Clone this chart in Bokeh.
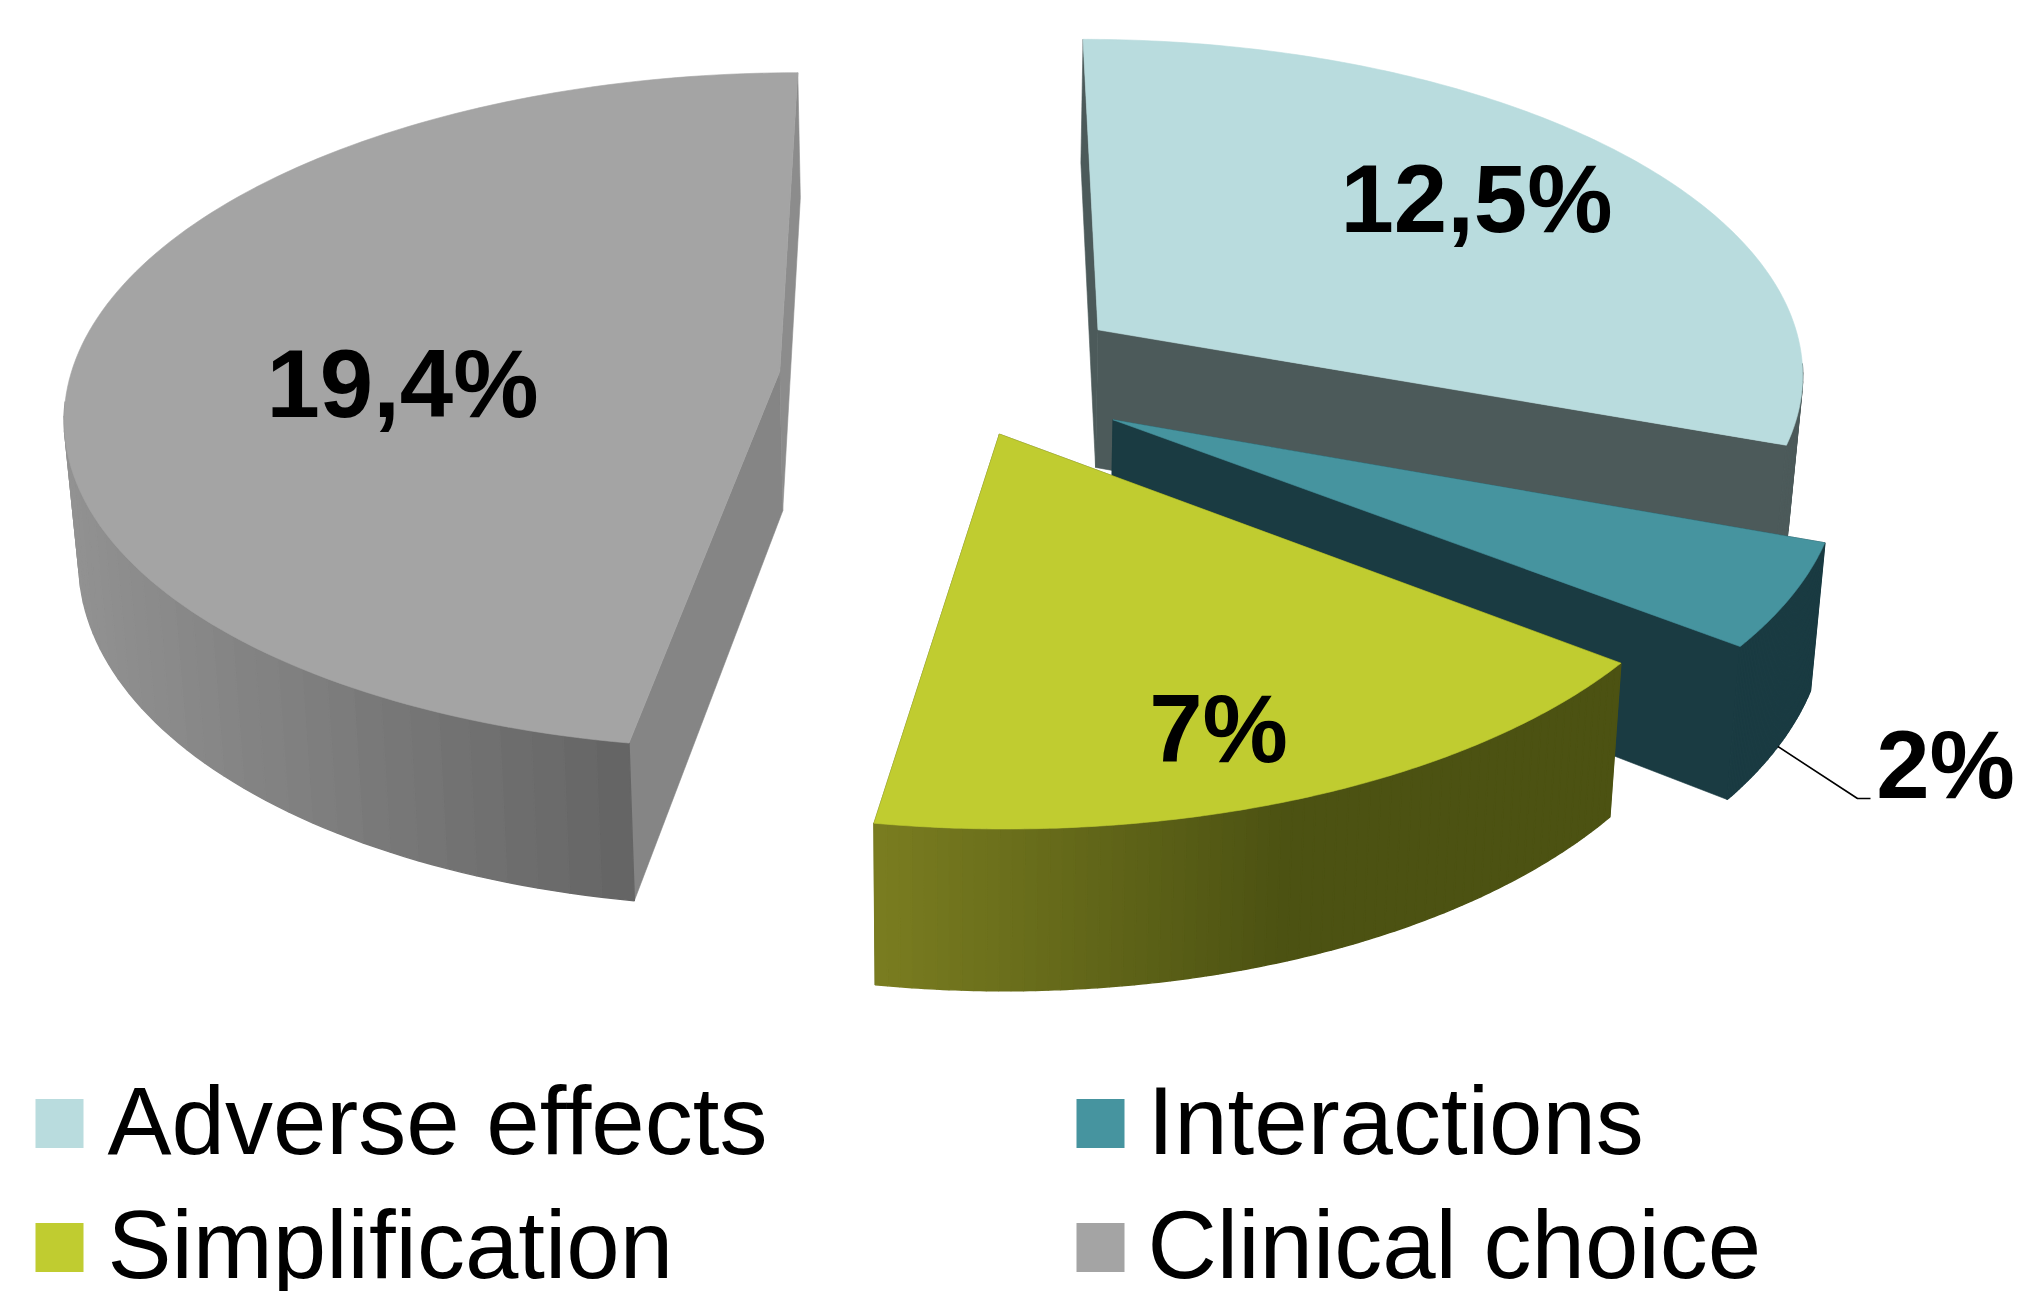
import numpy as np
from bokeh.core.properties import value
from bokeh.embed import file_html
from bokeh.plotting import figure
from bokeh.resources import INLINE

# Chart data
categories = ["Adverse effects", "Interactions", "Simplification", "Clinical choice"]
shares = [12.5, 2, 7, 19.4]
share_labels = ["12,5%", "2%", "7%", "19,4%"]

# Slice styling
explode = [0.26, 0.26, 0.18, 0.25]
top_colors = ["#b9dcde", "#46949f", "#c0cc30", "#a4a4a4"]
wall_colors = [("#4c5a5a", "#4c5a5a"), ("#1a3b42", "#1a3b42"),
               ("#4c5212", "#4c5212"), ("#858585", "#8c8c8c")]
rim_stops = [[(0, "#4c5a5a"), (1, "#4c5a5a")],
             [(0, "#1a3b42"), (1, "#1a3b42")],
             [(0, "#7a7d20"), (0.55, "#4c5212"), (1, "#4c5212")],
             [(0, "#929292"), (1, "#646464")]]
draw_order = [3, 0, 1, 2]

# Camera for the tilted pie plane
VANISH_X, VANISH_Y = 952.0, -2500.0
SPAN_Y = 2900.0
RADIUS_X = 700.0
TILT = 0.115
CENTER_Y = 0.068
PIE_RX, PIE_RY = 1.022, 1.02
THICKNESS = 141.0
LEAN = 0.0165
SEGMENTS = 140
STRIP = 2
BASELINE_SHIFT = -34


def to_screen(px, py):
    w = 1 + TILT * py
    return VANISH_X + RADIUS_X * px / w, VANISH_Y + SPAN_Y / w


def drop(sx, sy):
    """Move a point on the top face to the bottom face of the disc."""
    return sx + (VANISH_X - sx) * LEAN, sy + THICKNESS * (sy - VANISH_Y) / SPAN_Y


def rgb(h):
    return np.array([int(h[i:i + 2], 16) for i in (1, 3, 5)], dtype=float)


def ramp(stops, f):
    f = float(np.clip(f, 0, 1))
    for (a, ca), (b, cb) in zip(stops, stops[1:]):
        if f <= b:
            t = (f - a) / (b - a)
            c = rgb(ca) * (1 - t) + rgb(cb) * t
            return "#%02x%02x%02x" % tuple(int(round(v)) for v in c)
    return stops[-1][1]


total = sum(shares)
edges = np.concatenate([[0], np.cumsum(shares)]) / total * 2 * np.pi

p = figure(width=2041, height=1291, x_range=(0, 2041), y_range=(1291, 0),
           output_backend="svg", toolbar_location=None, min_border=0,
           outline_line_color=None, background_fill_color="white",
           border_fill_color="white")
p.axis.visible = False
p.grid.visible = False


def face(xs, ys, color, width=0.6):
    p.patch(list(xs), list(ys), fill_color=color, line_color=color, line_width=width)


leader_start = None
for i in draw_order:
    a0, a1 = edges[i], edges[i + 1]
    mid = (a0 + a1) / 2
    ox = explode[i] * np.sin(mid)
    oy = CENTER_Y + explode[i] * np.cos(mid)
    th = np.linspace(a0, a1, SEGMENTS + 1)
    tx, ty = to_screen(ox + PIE_RX * np.sin(th), oy + PIE_RY * np.cos(th))
    bx, by = drop(tx, ty)
    ax, ay = to_screen(ox, oy)
    dax, day = drop(ax, ay)

    # radial walls
    for k, idx in enumerate((0, -1)):
        face([ax, tx[idx], bx[idx], dax], [ay, ty[idx], by[idx], day], wall_colors[i][k])

    # curved rim in front of the silhouette point of the disc, shaded left to right
    front = np.cos(th) < -TILT
    if front.any():
        low, high = tx[front].min(), tx[front].max()
        for j in range(0, SEGMENTS, STRIP):
            end = min(j + STRIP, SEGMENTS)
            if not (front[j] or front[end]):
                continue
            f = ((tx[j] + tx[end]) / 2 - low) / max(high - low, 1)
            rx = np.concatenate([tx[j:end + 1], bx[j:end + 1][::-1]])
            ry = np.concatenate([ty[j:end + 1], by[j:end + 1][::-1]])
            face(rx, ry, ramp(rim_stops[i], f), width=1.4)

    # top face
    face(np.concatenate([[ax], tx]), np.concatenate([[ay], ty]), top_colors[i])

    if categories[i] == "Interactions":
        leader_start = (np.interp(mid, th, bx), np.interp(mid, th, by))

# Data labels
label_x = [1476, 1945, 1218, 402]
label_y = [232, 798, 762, 417]
p.text(x=label_x, y=label_y, y_offset=BASELINE_SHIFT, text=share_labels,
       text_font=value("Liberation Sans"), text_font_style="bold",
       text_font_size="96px", text_color="#000000",
       text_align="center", text_baseline="alphabetic")

# Leader line for the small slice
p.line([leader_start[0], 1857, 1870], [leader_start[1], 798, 798],
       line_color="#000000", line_width=1.6)

# Legend
swatch_x = [59, 1100, 59, 1100]
swatch_y = [1123, 1123, 1247, 1247]
legend_x = [107, 1147, 107, 1147]
legend_y = [1154, 1154, 1278, 1278]
p.rect(x=swatch_x, y=swatch_y, width=48, height=49, fill_color=top_colors, line_color=None)
p.text(x=legend_x, y=legend_y, y_offset=BASELINE_SHIFT, text=categories,
       text_font=value("Liberation Sans"), text_font_size="96px",
       text_color="#000000", text_align="left", text_baseline="alphabetic")

open("out.html", "w").write(file_html(p, INLINE))
